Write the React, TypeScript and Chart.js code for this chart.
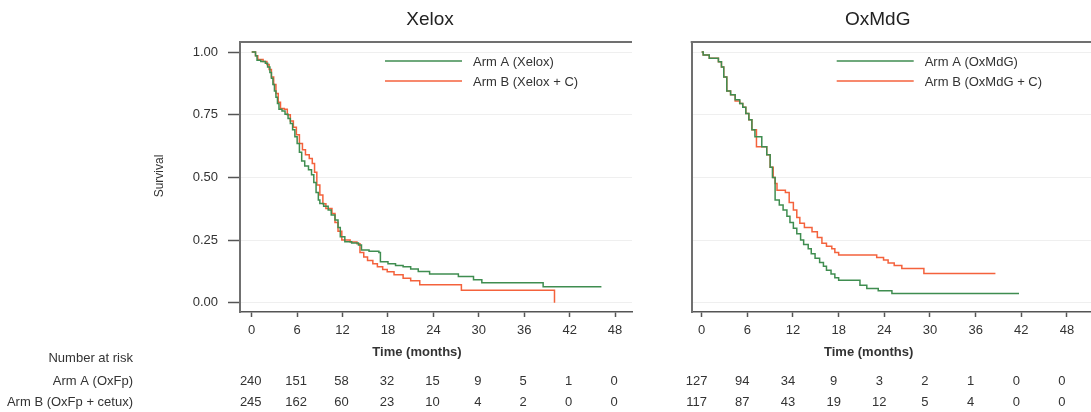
import React, { useEffect, useRef } from 'react';
import { Chart, registerables } from 'chart.js';

Chart.register(...registerables);

// ---- data ----
const timeTicks = [0, 6, 12, 18, 24, 30, 36, 42, 48];
const survivalTicks = [0, 0.25, 0.5, 0.75, 1];

const xeloxA_t = [0, 0.5, 0.7, 1.2, 1.8, 2.1, 2.4, 2.6, 2.8, 3.0, 3.2, 3.4, 3.6, 4.0, 4.4, 4.8, 5.1, 5.4, 5.7, 6.0, 6.3, 6.6, 7.0, 7.5, 7.9, 8.2, 8.5, 8.8, 9.0, 9.5, 10.1, 10.5, 11.0, 11.4, 11.7, 12.3, 13.2, 14.1, 14.5, 15.5, 16.8, 17.0, 18.0, 19.0, 20.0, 21.0, 22.0, 23.5, 27.3, 29.3, 30.4, 38.5, 46.2];
const xeloxA_s = [1, 0.985, 0.967, 0.962, 0.955, 0.94, 0.918, 0.895, 0.87, 0.845, 0.82, 0.795, 0.772, 0.765, 0.752, 0.735, 0.715, 0.69, 0.662, 0.635, 0.6, 0.565, 0.545, 0.53, 0.51, 0.48, 0.44, 0.41, 0.396, 0.385, 0.37, 0.35, 0.33, 0.3, 0.263, 0.243, 0.238, 0.23, 0.21, 0.205, 0.2, 0.163, 0.155, 0.148, 0.143, 0.135, 0.125, 0.115, 0.105, 0.092, 0.08, 0.064, 0.064];

const xeloxB_t = [0, 0.5, 0.8, 1.5, 2.0, 2.3, 2.6, 2.9, 3.2, 3.5, 3.8, 4.3, 4.7, 5.1, 5.5, 5.9, 6.3, 6.7, 7.1, 7.6, 8.0, 8.3, 8.6, 9.0, 9.4, 9.8, 10.6, 11.0, 11.4, 11.9, 13.0, 13.9, 14.3, 14.8, 15.3, 16.0, 16.6, 17.3, 17.9, 18.8, 20.0, 21.0, 22.2, 27.7, 40.0];
const xeloxB_s = [1, 0.985, 0.97, 0.962, 0.95, 0.93, 0.9, 0.87, 0.835, 0.8, 0.775, 0.772, 0.75, 0.725, 0.7, 0.67, 0.635, 0.61, 0.59, 0.575, 0.555, 0.52, 0.47, 0.43, 0.395, 0.376, 0.356, 0.32, 0.285, 0.25, 0.242, 0.235, 0.2, 0.182, 0.168, 0.155, 0.143, 0.133, 0.124, 0.112, 0.098, 0.088, 0.072, 0.05, 0];

const oxmdgA_t = [0, 0.2, 1.0, 2.2, 2.6, 2.9, 3.3, 3.8, 4.4, 5.0, 5.4, 5.8, 6.2, 6.6, 7.0, 7.9, 8.55, 9.0, 9.3, 9.65, 10.2, 10.7, 11.2, 11.6, 12.05, 12.5, 13.0, 13.4, 14.0, 14.4, 14.9, 15.5, 16.0, 16.4, 17.0, 17.5, 18.0, 20.8, 21.7, 23.2, 25.0, 41.7];
const oxmdgA_s = [1, 0.988, 0.975, 0.961, 0.94, 0.9, 0.845, 0.83, 0.81, 0.795, 0.78, 0.755, 0.73, 0.69, 0.662, 0.622, 0.59, 0.54, 0.5, 0.41, 0.39, 0.37, 0.345, 0.32, 0.297, 0.275, 0.25, 0.232, 0.215, 0.195, 0.177, 0.16, 0.145, 0.13, 0.115, 0.1, 0.09, 0.07, 0.057, 0.048, 0.037, 0.037];

const oxmdgB_t = [0, 0.2, 1.0, 2.2, 2.6, 2.9, 3.3, 3.8, 4.4, 5.0, 5.4, 5.8, 6.2, 6.6, 7.2, 8.55, 9.0, 9.4, 9.65, 9.9, 11.0, 11.5, 12.05, 12.5, 12.9, 13.5, 14.5, 15.2, 15.8, 16.4, 17.1, 17.5, 18.0, 23.0, 23.9, 24.5, 25.3, 26.3, 29.2, 38.6];
const oxmdgB_s = [1, 0.988, 0.975, 0.961, 0.94, 0.9, 0.845, 0.83, 0.805, 0.795, 0.78, 0.755, 0.73, 0.69, 0.622, 0.59, 0.54, 0.5, 0.476, 0.449, 0.44, 0.4, 0.37, 0.34, 0.317, 0.3, 0.283, 0.26, 0.237, 0.225, 0.215, 0.2, 0.19, 0.18, 0.17, 0.158, 0.148, 0.137, 0.117, 0.117];

const riskHeader = 'Number at risk';
const riskRowLabels = ['Arm A (OxFp)', 'Arm B (OxFp + cetux)'];
const xeloxRiskA = [240, 151, 58, 32, 15, 9, 5, 1, 0];
const xeloxRiskB = [245, 162, 60, 23, 10, 4, 2, 0, 0];
const oxmdgRiskA = [127, 94, 34, 9, 3, 2, 1, 0, 0];
const oxmdgRiskB = [117, 87, 43, 19, 12, 5, 4, 0, 0];

const GREEN = '#3f8d50';
const RED = '#f4623c';
const FONT = '"Liberation Sans", Arial, sans-serif';
const TEXT = '#333333';

const toPoints = (t: number[], s: number[]) => t.map((v, i) => ({ x: v, y: s[i] }));

const decorPlugin = {
  id: 'panelDecor',
  afterDraw(chart: any, _args: any, opts: any) {
    const { ctx, chartArea } = chart;
    const L = chartArea.left;
    const T = chartArea.top;
    ctx.save();
    // top frame line
    ctx.strokeStyle = '#707070';
    ctx.lineWidth = 2;
    ctx.beginPath();
    ctx.moveTo(L - 1, T);
    ctx.lineTo(chartArea.right, T);
    ctx.stroke();

    ctx.fillStyle = '#222';
    ctx.textAlign = 'center';
    ctx.textBaseline = 'middle';
    ctx.font = `19px ${FONT}`;
    ctx.fillText(opts.title, L + opts.titleOffset, 20);

    ctx.font = `bold 13px ${FONT}`;
    ctx.fillStyle = TEXT;
    ctx.fillText('Time (months)', L + 177, 352);

    // legend
    ctx.font = `13px ${FONT}`;
    ctx.textAlign = 'left';
    chart.data.datasets.forEach((ds: any, i: number) => {
      const y = T + 19 + i * 20;
      ctx.strokeStyle = ds.borderColor;
      ctx.lineWidth = 1.5;
      ctx.beginPath();
      ctx.moveTo(L + 145, y);
      ctx.lineTo(L + 222, y);
      ctx.stroke();
      ctx.fillStyle = TEXT;
      ctx.fillText(ds.label, L + 233, y + 1);
    });

    if (opts.yLabel) {
      ctx.save();
      ctx.translate(160, 176);
      ctx.rotate(-Math.PI / 2);
      ctx.textAlign = 'center';
      ctx.font = `12px ${FONT}`;
      ctx.fillText(opts.yLabel, 0, 0);
      ctx.restore();
    }

    // risk table
    const xs = chart.scales.x;
    ctx.font = `13px ${FONT}`;
    ctx.fillStyle = TEXT;
    if (opts.rowLabels) {
      ctx.textAlign = 'right';
      ctx.fillText(riskHeader, 133, 358);
      opts.rowLabels.forEach((lab: string, r: number) => ctx.fillText(lab, 133, 381 + r * 21));
    }
    ctx.textAlign = 'center';
    opts.rows.forEach((row: number[], r: number) => {
      row.forEach((n, i) => {
        ctx.fillText(String(n), xs.getPixelForValue(timeTicks[i]) + opts.riskShift, 381 + r * 21);
      });
    });
    ctx.restore();
  },
};

type PanelProps = {
  left: number;
  width: number;
  xMin: number;
  xMax: number;
  padLeft: number;
  padRight: number;
  showY: boolean;
  datasets: any[];
  decor: any;
};

function Panel(p: PanelProps) {
  const ref = useRef<HTMLCanvasElement>(null);
  useEffect(() => {
    if (!ref.current) return;
    const chart = new Chart(ref.current, {
      type: 'line',
      data: { datasets: p.datasets },
      plugins: [decorPlugin],
      options: {
        animation: false,
        responsive: false,
        layout: { padding: { left: 0, right: p.padRight, top: 42, bottom: 49 } },
        plugins: {
          legend: { display: false },
          tooltip: { enabled: false },
          panelDecor: p.decor,
        } as any,
        elements: { point: { radius: 0 } },
        scales: {
          x: {
            type: 'linear',
            min: p.xMin,
            max: p.xMax,
            afterBuildTicks: (s: any) => { s.ticks = timeTicks.map((v) => ({ value: v })); },
            afterFit: (s: any) => { s.height = 51; },
            ticks: { font: { family: FONT, size: 13 }, color: TEXT, padding: 6, maxRotation: 0, autoSkip: false },
            grid: { drawOnChartArea: false, tickLength: 5, tickColor: '#555', tickWidth: 1.5 },
            border: { color: '#555', width: 1.5 },
          },
          y: {
            type: 'linear',
            min: -0.037,
            max: 1.04,
            afterBuildTicks: (s: any) => { s.ticks = survivalTicks.map((v) => ({ value: v })); },
            afterFit: (s: any) => { s.width = p.padLeft; },
            ticks: {
              display: p.showY,
              font: { family: FONT, size: 13 },
              color: TEXT,
              padding: 10,
              callback: (v: any) => Number(v).toFixed(2),
            },
            grid: { color: '#efefef', lineWidth: 1, drawTicks: p.showY, tickLength: 12, tickColor: '#555', tickWidth: 1.5 },
            border: { color: '#707070', width: 2 },
          },
        },
      } as any,
    });
    return () => chart.destroy();
  }, []);
  return (
    <canvas
      ref={ref}
      width={p.width}
      height={412}
      style={{ position: 'absolute', left: p.left, top: 0, width: p.width, height: 412 }}
    />
  );
}

export default function App() {
  const lineStyle = { borderWidth: 1.5, stepped: 'before', pointRadius: 0, fill: false };
  const xeloxSets = [
    { label: 'Arm A (Xelox)', data: toPoints(xeloxA_t, xeloxA_s), borderColor: GREEN, ...lineStyle },
    { label: 'Arm B (Xelox + C)', data: toPoints(xeloxB_t, xeloxB_s), borderColor: RED, ...lineStyle },
  ];
  const oxmdgSets = [
    { label: 'Arm A (OxMdG)', data: toPoints(oxmdgA_t, oxmdgA_s), borderColor: GREEN, ...lineStyle },
    { label: 'Arm B (OxMdG + C)', data: toPoints(oxmdgB_t, oxmdgB_s), borderColor: RED, ...lineStyle },
  ];
  return (
    <div style={{ position: 'absolute', left: 0, top: 0, width: 1091, height: 412, overflow: 'hidden', background: '#fff' }}>
      <Panel
        left={0}
        width={660}
        xMin={-1.55}
        xMax={50.24}
        padLeft={240}
        padRight={28}
        showY={true}
        datasets={xeloxSets}
        decor={{ title: 'Xelox', titleOffset: 190, yLabel: 'Survival', rowLabels: riskRowLabels, rows: [xeloxRiskA, xeloxRiskB], riskShift: -1 }}
      />
      <Panel
        left={660}
        width={431}
        xMin={-1.31}
        xMax={51.16}
        padLeft={31.7}
        padRight={0}
        showY={false}
        datasets={oxmdgSets}
        decor={{ title: 'OxMdG', titleOffset: 186, rows: [oxmdgRiskA, oxmdgRiskB], riskShift: -5 }}
      />
    </div>
  );
}
